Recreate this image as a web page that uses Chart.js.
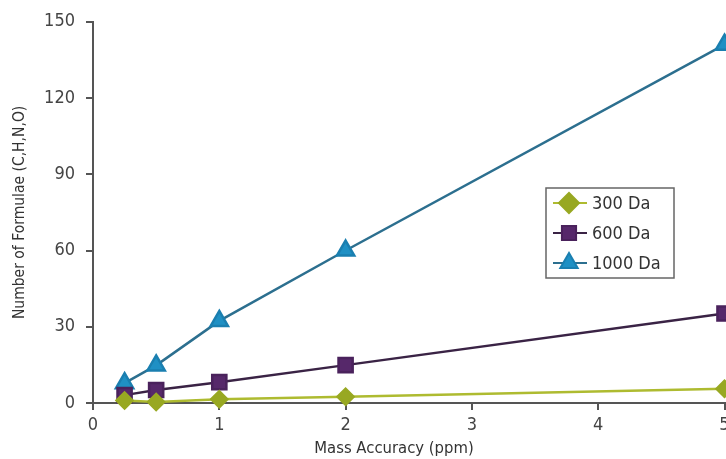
<!DOCTYPE html>
<html><head><meta charset="utf-8">
<script src="https://cdn.jsdelivr.net/npm/chart.js@4/dist/chart.umd.min.js"></script>
<style>html,body{margin:0;padding:0;background:#fff;overflow:hidden;}#wrap{width:726px;height:459px;position:relative;overflow:hidden;}canvas{display:block;}</style>
</head><body><div id="wrap"><canvas id="c" width="737" height="459"></canvas></div>
<script>
const massAccuracy = [0.25, 0.5, 1, 2, 5];
const da300 = [1.0, 0.4, 1.5, 2.5, 5.6];
const da600 = [3.1, 5.1, 8.2, 14.9, 35.2];
const da1000 = [7.8, 14.8, 32.3, 60.0, 141.0];
const seriesNames = ['300 Da', '600 Da', '1000 Da'];
const yTicks = [0, 30, 60, 90, 120, 150];
const xTicks = [0, 1, 2, 3, 4, 5];
const xTitle = 'Mass Accuracy (ppm)';
const yTitle = 'Number of Formulae (C,H,N,O)';

const FONT = "'Liberation Sans Narrow','DejaVu Sans Condensed','Roboto Condensed',sans-serif";
const toPts = arr => arr.map((v, i) => ({x: massAccuracy[i], y: v}));

const legendPlugin = {
  id: 'boxLegend',
  afterDraw(chart) {
    const ctx = chart.ctx;
    const x0 = 546, y0 = 188, w = 128, h = 90;
    ctx.save();
    ctx.fillStyle = '#fff';
    ctx.fillRect(x0, y0, w, h);
    ctx.strokeStyle = '#666';
    ctx.lineWidth = 1.5;
    ctx.strokeRect(x0, y0, w, h);
    const rows = [203, 233, 263];
    const lr = [10, 10, 10];
    chart.data.datasets.forEach((ds, i) => {
      const cy = rows[i];
      ctx.strokeStyle = ds.borderColor;
      ctx.lineWidth = 2;
      ctx.beginPath(); ctx.moveTo(x0 + 7, cy); ctx.lineTo(x0 + 41, cy); ctx.stroke();
      ctx.fillStyle = ds.pointBackgroundColor;
      ctx.strokeStyle = ds.pointBorderColor;
      Chart.helpers.drawPoint(ctx, {pointStyle: ds.pointStyle, radius: lr[i], borderWidth: 1}, x0 + 23, cy);
      ctx.fillStyle = '#333';
      ctx.font = '18px ' + FONT;
      ctx.textBaseline = 'middle';
      ctx.textAlign = 'left';
      ctx.fillText(ds.label, x0 + 46, cy + 1);
    });
    // x axis title
    ctx.fillStyle = '#333';
    ctx.font = '16.5px ' + FONT;
    ctx.textAlign = 'center';
    ctx.textBaseline = 'middle';
    ctx.fillText(xTitle, 394, 449);
    ctx.restore();
  }
};

new Chart(document.getElementById('c'), {
  type: 'scatter',
  data: {
    datasets: [
      {label: seriesNames[0], data: toPts(da300), showLine: true, borderColor: '#aebb30', borderWidth: 2.5,
       pointStyle: 'rectRot', pointRadius: 8, pointHoverRadius: 8, pointBackgroundColor: '#98a822', pointBorderColor: '#98a822', clip: false},
      {label: seriesNames[1], data: toPts(da600), showLine: true, borderColor: '#3a2345', borderWidth: 2.5,
       pointStyle: 'rect', pointRadius: 10, pointHoverRadius: 10, pointBackgroundColor: '#56286a', pointBorderColor: '#4a225c', clip: false},
      {label: seriesNames[2], data: toPts(da1000), showLine: true, borderColor: '#2c6f8f', borderWidth: 2.5,
       pointStyle: 'triangle', pointRadius: 10, pointHoverRadius: 10, pointBackgroundColor: '#1f90c4', pointBorderColor: '#1a7fb0', clip: false}
    ]
  },
  options: {
    responsive: false,
    animation: false,
    events: [],
    layout: {padding: {top: 19, right: 0, left: 0, bottom: 0}},
    plugins: {legend: {display: false}, tooltip: {enabled: false}},
    scales: {
      x: {
        type: 'linear', min: 0, max: 5,
        afterBuildTicks: s => { s.ticks = xTicks.map(v => ({value: v})); },
        afterFit: s => { s.height = 56; },
        border: {display: true, color: '#555', width: 2},
        grid: {display: true, drawOnChartArea: false, drawTicks: true, tickLength: 7, color: '#555', lineWidth: 2},
        ticks: {color: '#444', font: {family: FONT, size: 18}, padding: 5, maxRotation: 0, autoSkip: false},
        title: {display: false}
      },
      y: {
        type: 'linear', min: 0, max: 150,
        afterBuildTicks: s => { s.ticks = yTicks.map(v => ({value: v})); },
        afterFit: s => { s.width = 93; },
        border: {display: true, color: '#555', width: 2},
        grid: {display: true, drawOnChartArea: false, drawTicks: true, tickLength: 7, color: '#555', lineWidth: 2},
        ticks: {color: '#444', font: {family: FONT, size: 18}, padding: 11},
        title: {display: true, text: yTitle, color: '#333', font: {family: FONT, size: 15.5}, padding: {top: 11, bottom: 0}}
      }
    }
  },
  plugins: [legendPlugin]
});
</script></body></html>
